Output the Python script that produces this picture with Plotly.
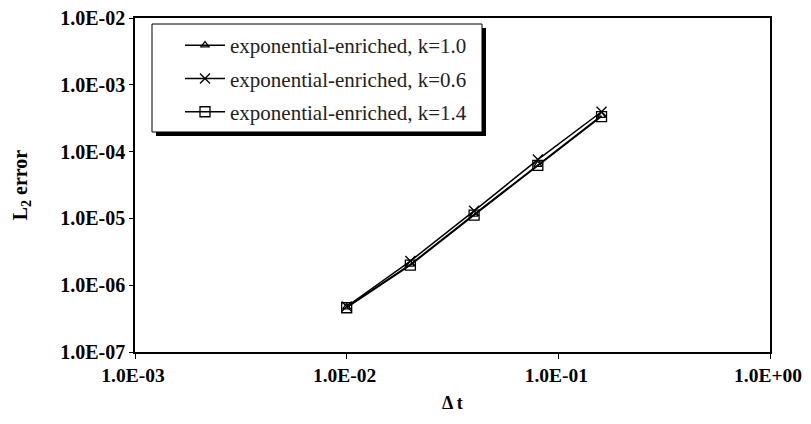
import plotly.graph_objects as go

dt = [0.01, 0.02, 0.04, 0.08, 0.16]
err_k10 = [4.7e-7, 2.05e-6, 1.15e-5, 6.4e-5, 3.45e-4]
err_k06 = [4.8e-7, 2.3e-6, 1.3e-5, 7.6e-5, 3.95e-4]
err_k14 = [4.6e-7, 2.0e-6, 1.12e-5, 6.2e-5, 3.35e-4]

names = ["exponential-enriched, k=1.0", "exponential-enriched, k=0.6", "exponential-enriched, k=1.4"]
x_tickvals = [1e-3, 1e-2, 1e-1, 1e0]
x_ticktext = ["1.0E-03", "1.0E-02", "1.0E-01", "1.0E+00"]
y_tickvals = [1e-7, 1e-6, 1e-5, 1e-4, 1e-3, 1e-2]
y_ticktext = ["1.0E-07", "1.0E-06", "1.0E-05", "1.0E-04", "1.0E-03", "1.0E-02"]
x_title = "Δ t"
y_title = "L<sub>2</sub> error"

FONT = "Liberation Serif, Times New Roman, serif"
OFF = 8  # page body margin
W, H = 811 - 2 * OFF, 424 - 2 * OFF
# target plot area in screen pixels: x 135..770, y 18..352
ML, MT = 135 - OFF, 18 - OFF
MR = W - (770 - OFF)
MB = H - (352 - OFF)
PW, PH = W - ML - MR, H - MT - MB

def px2paper_x(px):
    return (px - OFF - ML) / PW

def px2paper_y(py):
    return (H - MB - (py - OFF)) / PH

fig = go.Figure()
styles = [
    dict(symbol="triangle-up-open", size=7),
    dict(symbol="x-thin-open", size=10),
    dict(symbol="square-open", size=10),
]
for i, (ys, nm, st) in enumerate(zip([err_k10, err_k06, err_k14], names, styles)):
    fig.add_trace(go.Scatter(
        x=dt, y=ys, name=nm, mode="lines+markers",
        legendgroup=f"g{i}",
        line=dict(color="black", width=1.5),
        marker=dict(symbol=st["symbol"], size=st["size"], color="black",
                    line=dict(color="black", width=1.3)),
    ))

# legend box with shadow
bx0, bx1, by0, by1 = 152, 482, 24, 132
fig.add_shape(type="rect", xref="paper", yref="paper",
              x0=px2paper_x(bx0 + 4), x1=px2paper_x(bx1 + 4),
              y0=px2paper_y(by1 + 4), y1=px2paper_y(by0 + 4),
              fillcolor="black", line=dict(width=0), layer="above")
fig.add_shape(type="rect", xref="paper", yref="paper",
              x0=px2paper_x(bx0), x1=px2paper_x(bx1),
              y0=px2paper_y(by1), y1=px2paper_y(by0),
              fillcolor="white", line=dict(color="black", width=1), layer="above")

fig.add_annotation(text=f"<b>{x_title}</b>", xref="paper", yref="paper",
                   x=px2paper_x(452), y=px2paper_y(415), xanchor="center", yanchor="bottom",
                   showarrow=False, font=dict(family=FONT, size=18, color="black"))

fig.update_layout(
    width=W, height=H,
    margin=dict(l=ML, r=MR, t=MT, b=MB, autoexpand=False),
    paper_bgcolor="white", plot_bgcolor="white",
    font=dict(family=FONT, color="black"),
    showlegend=True,
    legend=dict(x=px2paper_x(180), y=px2paper_y(25), xanchor="left", yanchor="top",
                bgcolor="rgba(0,0,0,0)", borderwidth=0,
                font=dict(family=FONT, size=21, color="#222"),
                tracegroupgap=3, itemwidth=40),
    xaxis=dict(type="log", range=[-3, 0], tickvals=x_tickvals, ticktext=x_ticktext,
               automargin=False, ticklabeloverflow="allow", ticklabelshift=-2,
               showgrid=False, zeroline=False, showline=True, linecolor="black",
               linewidth=1.5, mirror=True, ticks="outside", ticklen=5,
               tickcolor="black", tickwidth=1,
               tickfont=dict(family=FONT, size=19.5, color="black", weight="bold")),
    yaxis=dict(type="log", range=[-7, -2], tickvals=y_tickvals, ticktext=y_ticktext,
               automargin=False, ticklabeloverflow="allow",
               showgrid=False, zeroline=False, showline=True, linecolor="black",
               linewidth=1.5, mirror=True, ticks="outside", ticklen=4,
               tickcolor="black", tickwidth=1,
               tickfont=dict(family=FONT, size=20, color="black", weight="bold"),
               title=dict(text=f"<b>{y_title}</b>", font=dict(family=FONT, size=20), standoff=27)),
)

fig.write_html("out.html")
